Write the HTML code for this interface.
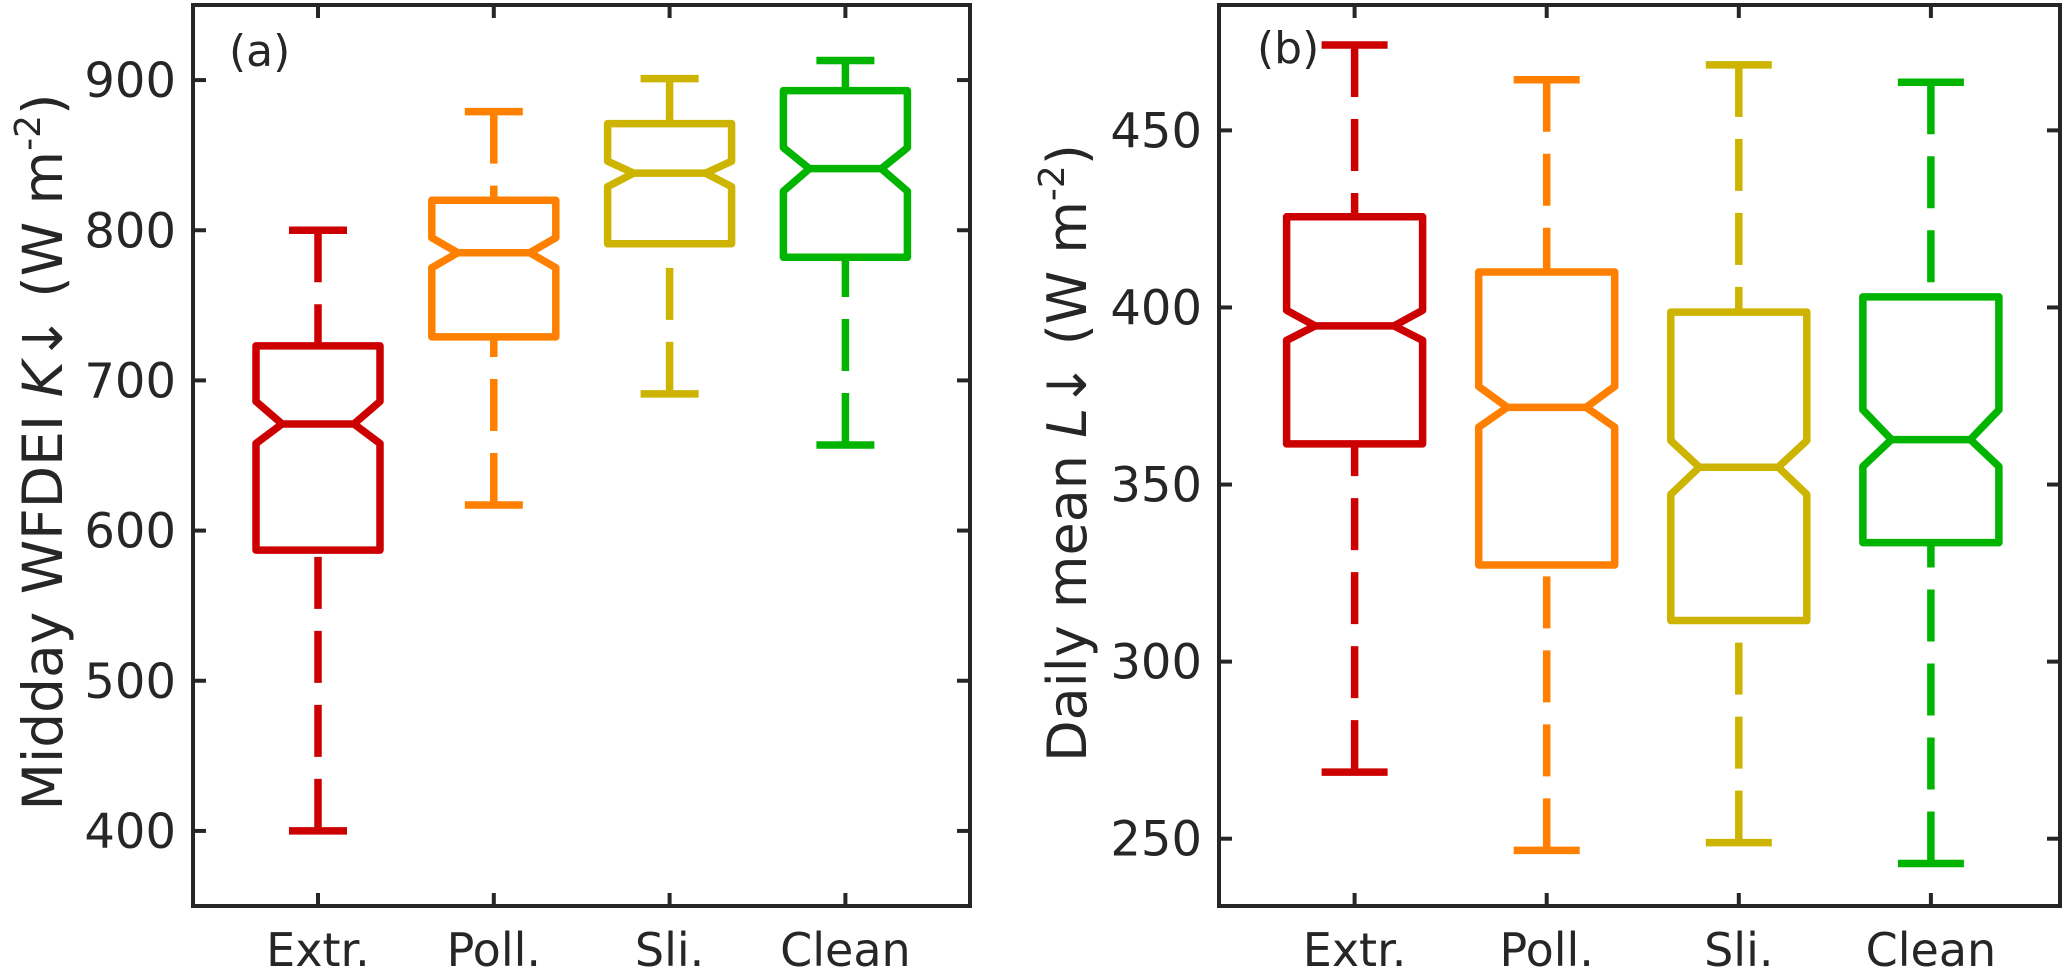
<!DOCTYPE html>
<html><head><meta charset="utf-8"><style>
html,body{margin:0;padding:0;background:#fff;}
svg{display:block;}
text{font-family:"DejaVu Sans","Liberation Sans",sans-serif;fill:#262626;}
</style></head><body>
<svg id="chart" width="2067" height="970" viewBox="0 0 2067 970" xmlns="http://www.w3.org/2000/svg"></svg>
<script>
const categories = ["Extr.", "Poll.", "Sli.", "Clean"];
const colors = ["#cc0000", "#ff8000", "#ccb400", "#00b400"];
// panel a: [whiskerLow, q1, notchLow, median, notchHigh, q3, whiskerHigh]
const aLow = [400, 617, 691, 657];
const aQ1 = [587, 729, 791, 782];
const aNotchLo = [658, 775, 829, 826];
const aMedian = [671, 785, 838, 841];
const aNotchHi = [686, 795, 846, 855];
const aQ3 = [723, 820, 871, 893];
const aHigh = [800, 879, 901, 913];
const aTicks = [400, 500, 600, 700, 800, 900];
// panel b
const bLow = [268.8, 246.7, 248.9, 243];
const bQ1 = [361.5, 327.3, 311.6, 333.6];
const bNotchLo = [390.7, 366.2, 347.2, 355.1];
const bMedian = [394.8, 371.8, 354.9, 362.7];
const bNotchHi = [399.2, 377.7, 362.4, 371.1];
const bQ3 = [425.6, 410, 398.7, 403];
const bHigh = [474.1, 464.3, 468.5, 463.6];
const bTicks = [250, 300, 350, 400, 450];

const NS = "http://www.w3.org/2000/svg";
const svg = document.getElementById("chart");
function mk(tag, attrs, parent) {
  const e = document.createElementNS(NS, tag);
  for (const k in attrs) e.setAttribute(k, attrs[k]);
  (parent || svg).appendChild(e);
  return e;
}

function panel(cfg) {
  const g = mk("g", {});
  
  
  const y = v => cfg.top + (cfg.ymax - v) / (cfg.ymax - cfg.ymin) * (cfg.bottom - cfg.top);
  const x = i => cfg.x0 + i * cfg.dx;
  for (let i = 0; i < categories.length; i++) {
    const bg = mk("g", {}, g);
    
    
    const c = colors[i], cx = x(i), hw = cfg.boxW / 2, nw = hw * 0.58, cw = cfg.capW / 2;
    const st = {stroke: c, "stroke-width": 7.5, fill: "none"};
    const wl = mk("line", Object.assign({x1: cx, x2: cx, y1: y(cfg.low[i]), y2: y(cfg.q1[i]), "stroke-dasharray": "52 22"}, st), bg);
    
    
    const wh = mk("line", Object.assign({x1: cx, x2: cx, y1: y(cfg.high[i]), y2: y(cfg.q3[i]), "stroke-dasharray": "52 22"}, st), bg);
    
    
    const cl = mk("line", Object.assign({x1: cx - cw, x2: cx + cw, y1: y(cfg.low[i]), y2: y(cfg.low[i])}, st), bg);
    
    
    const ch = mk("line", Object.assign({x1: cx - cw, x2: cx + cw, y1: y(cfg.high[i]), y2: y(cfg.high[i])}, st), bg);
    
    
    const pts = [
      [cx - hw, y(cfg.q1[i])], [cx - hw, y(cfg.nlo[i])], [cx - nw, y(cfg.med[i])], [cx - hw, y(cfg.nhi[i])],
      [cx - hw, y(cfg.q3[i])], [cx + hw, y(cfg.q3[i])], [cx + hw, y(cfg.nhi[i])], [cx + nw, y(cfg.med[i])],
      [cx + hw, y(cfg.nlo[i])], [cx + hw, y(cfg.q1[i])]
    ].map(p => p.join(",")).join(" ");
    const bx = mk("polygon", Object.assign({points: pts, "stroke-linejoin": "round"}, st), bg);
    
    
    const md = mk("line", Object.assign({x1: cx - nw, x2: cx + nw, y1: y(cfg.med[i]), y2: y(cfg.med[i])}, st), bg);
    
    
    const xl = mk("text", {x: cx, y: 966, "font-size": 46, "text-anchor": "middle"}, g);
    xl.textContent = categories[i];
    
    
    mk("line", {x1: cx, x2: cx, y1: cfg.bottom, y2: cfg.bottom - 13, stroke: "#262626", "stroke-width": 4}, g);
    mk("line", {x1: cx, x2: cx, y1: cfg.top, y2: cfg.top + 13, stroke: "#262626", "stroke-width": 4}, g);
  }
  for (const t of cfg.ticks) {
    mk("line", {x1: cfg.left, x2: cfg.left + 13, y1: y(t), y2: y(t), stroke: "#262626", "stroke-width": 4}, g);
    mk("line", {x1: cfg.right, x2: cfg.right - 13, y1: y(t), y2: y(t), stroke: "#262626", "stroke-width": 4}, g);
    const tl = mk("text", {x: cfg.left - 17, y: y(t) + 17, "font-size": 48, "text-anchor": "end"}, g);
    tl.textContent = t;
    
    
  }
  const fr = mk("rect", {x: cfg.left, y: cfg.top, width: cfg.right - cfg.left, height: cfg.bottom - cfg.top, fill: "none", stroke: "#262626", "stroke-width": 4}, g);
  
  
  const pl = mk("text", {x: cfg.labX, y: cfg.labY, "font-size": 44}, g);
  pl.textContent = cfg.label;
  
  
  const yt = mk("text", {transform: `translate(${cfg.ylx},${cfg.yly}) rotate(-90)`, "font-size": cfg.yfs, "text-anchor": "middle"}, g);
  
  
  yt.innerHTML = cfg.ytitle;
}

panel({name: "panel-a", left: 193, right: 970, top: 5, bottom: 906, ymin: 350, ymax: 950,
  x0: 318, dx: 175.8, boxW: 124, capW: 58, ticks: aTicks,
  low: aLow, q1: aQ1, nlo: aNotchLo, med: aMedian, nhi: aNotchHi, q3: aQ3, high: aHigh,
  label: "(a)", labX: 229, labY: 66, ylx: 62, yly: 452, yfs: 55,
  ytitle: 'Midday WFDEI  <tspan font-style="italic">K</tspan>↓ (W m<tspan font-size="36" dy="-22">-2</tspan><tspan dy="22">)</tspan>'});
panel({name: "panel-b", left: 1219, right: 2060, top: 5, bottom: 906, ymin: 231, ymax: 485.4,
  x0: 1354.6, dx: 192.1, boxW: 136, capW: 66, ticks: bTicks,
  low: bLow, q1: bQ1, nlo: bNotchLo, med: bMedian, nhi: bNotchHi, q3: bQ3, high: bHigh,
  label: "(b)", labX: 1257, labY: 63, ylx: 1086, yly: 453, yfs: 54,
  ytitle: 'Daily mean <tspan font-style="italic">L</tspan>↓ (W m<tspan font-size="36" dy="-22">-2</tspan><tspan dy="22">)</tspan>'});
</script>
</body></html>
